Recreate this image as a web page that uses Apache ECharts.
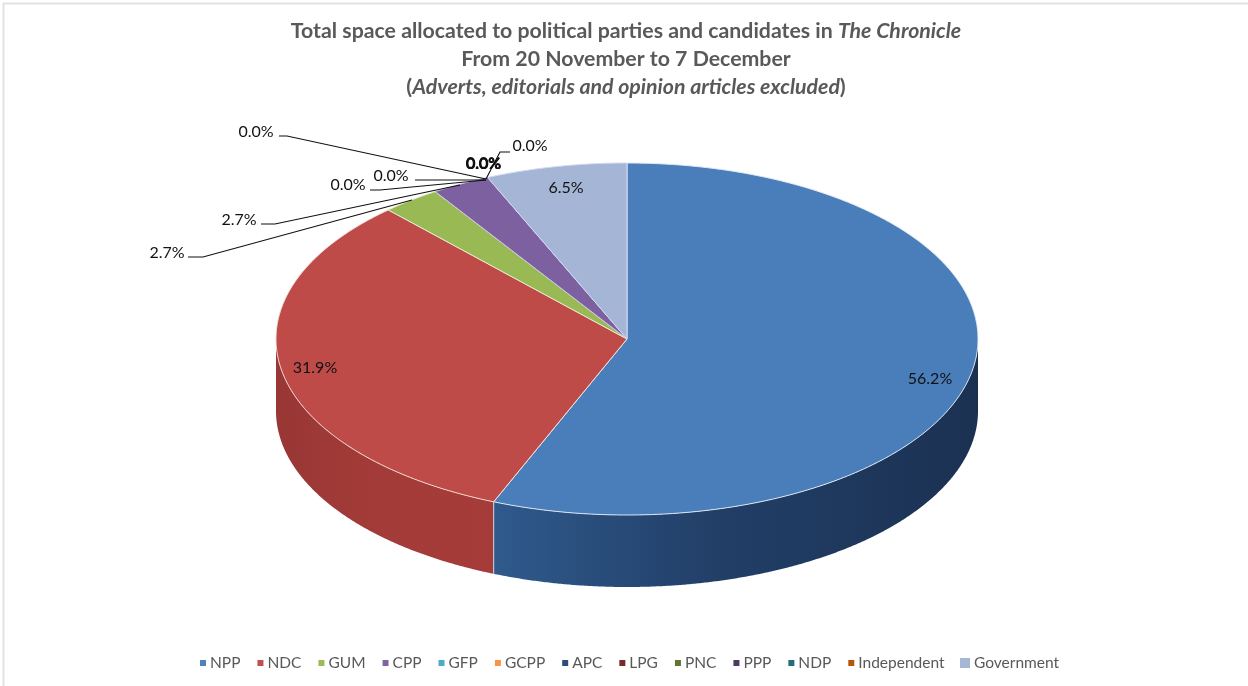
<!DOCTYPE html>
<html>
<head>
<meta charset="utf-8">
<style>html,body{margin:0;padding:0;background:#fff}#c{width:1248px;height:686px}</style>
<script src="https://cdn.jsdelivr.net/npm/echarts@6/dist/echarts.min.js"></script>
</head>
<body>
<div id="c"></div>
<script>
const categories = ['NPP','NDC','GUM','CPP','GFP','GCPP','APC','LPG','PNC','PPP','NDP','Independent','Government'];
const shares = [56.2,31.9,2.7,2.7,0,0,0,0,0,0,0,0,6.5];
const colors = ['#4F81BD','#C0504D','#9BBB59','#8064A2','#4BACC6','#F79646','#2C4D75','#772C2A','#5F7530','#4D3B62','#276A7C','#B65708','#A5B6D6'];
const topFills = ['#4A7EBB','#BE4B48','#98B954','#7D60A0','#4BACC6','#F79646','#2C4D75','#772C2A','#5F7530','#4D3B62','#276A7C','#B65708','#A4B5D6'];
const edgeTints = ['#E4ECF7','#F3E3DC','#E3EAD0','#CFC6E4','#fff','#fff','#fff','#fff','#fff','#fff','#fff','#fff','#D3D9F0'];

// Layout of the tilted disc and of each data label (separate from the data)
const disc = {cx:627, cy:339, rx:351, ry:176, depth:72};
const wallStops = {
  NPP:['#2F5A8C','#223F68','#1B3152'],
  NDC:['#983735','#A33B38','#A53C39']
};
const labelLayout = [
  {x:930,y:379},
  {x:315,y:368},
  {x:167,y:253,line:[[188,257],[203,257],[412,200]]},
  {x:239,y:220,line:[[261,224],[275,224],[460,185]]},
  {x:256,y:132,line:[[279,136],[287,136],[486,179]]},
  {x:483,y:163.5},
  {x:483.5,y:163},
  {x:484,y:163.5},
  {x:530,y:146,line:[[510,152],[500,152],[486,179]]},
  {x:391,y:176,line:[[415,180],[486,180]]},
  {x:348,y:185,line:[[370,190],[380,190],[486,180]]},
  {x:483.5,y:164},
  {x:566,y:188}
];
const total = shares.reduce((a,b)=>a+b,0);
const startFrac = shares.map((v,i)=>shares.slice(0,i).reduce((a,b)=>a+b,0)/total);

function rim(theta, dy){
  return [disc.cx + disc.rx*Math.sin(theta), disc.cy - disc.ry*Math.cos(theta) + (dy||0)];
}
function renderSlice(params, api){
  const i = params.seriesIndex;
  const v = api.value(0);
  const kids = [];
  const a0 = startFrac[i]*2*Math.PI, a1 = a0 + v/total*2*Math.PI;
  if (v > 0){
    const n = Math.max(2, Math.ceil((a1-a0)/0.005));
    const arc = [];
    for (let k=0;k<=n;k++) arc.push(a0+(a1-a0)*k/n);
    // side wall: only the front half of the rim (pi/2 .. 3pi/2) is visible
    const w0 = Math.max(a0, Math.PI/2), w1 = Math.min(a1, Math.PI*1.5);
    if (w1 > w0){
      const m = Math.ceil((w1-w0)/0.005), up = [], down = [];
      for (let k=0;k<=m;k++){
        const t = w0+(w1-w0)*k/m;
        up.push(rim(t,0)); down.push(rim(t,disc.depth));
      }
      const st = wallStops[categories[i]];
      const grad = new echarts.graphic.LinearGradient(0,0,1,0,
        [{offset:0,color:st[0]},{offset:0.45,color:st[1]},{offset:1,color:st[2]}]);
      kids.push({type:'polygon', z2:1, shape:{points:up.concat(down.reverse())},
        style:{fill:grad, stroke:'none'}});
      // the light seam where two wall sections meet
      if (a1 < Math.PI*1.5){
        const p = rim(a1,0), q = rim(a1,disc.depth);
        kids.push({type:'line', z2:2, shape:{x1:p[0],y1:p[1],x2:q[0],y2:q[1]},
          style:{stroke:'#C9D3E2',lineWidth:1}});
      }
    }
    const pts = [[disc.cx,disc.cy]].concat(arc.map(t=>rim(t,0)));
    kids.push({type:'polygon', z2:3, shape:{points:pts},
      style:{fill:topFills[i], stroke:edgeTints[i], lineWidth:1, lineJoin:'round'}});
  }
  const L = labelLayout[i];
  if (L.line){
    kids.push({type:'polyline', z2:6, shape:{points:L.line},
      style:{fill:'none',stroke:'#111',lineWidth:1.1}});
  }
  kids.push({type:'text', z2:7, style:{
    x:L.x, y:L.y, text:(v/total*100).toFixed(1)+'%', align:'center', verticalAlign:'middle',
    font:'16px Lato, sans-serif', fill:'#111'}});
  return {type:'group', children:kids};
}

const series = categories.map((name,i)=>({
  name, type:'custom', coordinateSystem:'none', renderItem:renderSlice,
  data:[[shares[i]]], itemStyle:{color:colors[i]}, silent:true, animation:false
}));

const chart = echarts.init(document.getElementById('c'), null, {renderer:'canvas'});
chart.setOption({
  animation:false,
  backgroundColor:'#fff',
  title:{
    left:621, top:12, textAlign:'center',
    text:'{b|Total space allocated to political parties and candidates in }{i|The Chronicle}\n{b|From 20 November to 7 December}\n{b|(}{i|Adverts, editorials and opinion articles excluded}{b|)}',
    textStyle:{
      rich:{
        b:{fontFamily:'Lato',fontWeight:'bold',fontSize:21.3,color:'#595959',lineHeight:28},
        i:{fontFamily:'Lato',fontWeight:'bold',fontStyle:'italic',fontSize:21.3,color:'#595959',lineHeight:28}
      }
    }
  },
  legend:[
    {data:categories.slice(0,12), left:195, top:650, orient:'horizontal', icon:'rect', itemWidth:6, itemHeight:6, itemGap:17,
     textStyle:{fontFamily:'Lato',fontSize:15.5,color:'#595959',padding:[0,0,0,-1]}, selectedMode:false},
    {data:categories.slice(12), left:955, top:650, icon:'rect', itemWidth:10, itemHeight:10,
     textStyle:{fontFamily:'Lato',fontSize:15.5,color:'#595959',padding:[0,0,0,-1]}, selectedMode:false}
  ],
  graphic:[
    {type:'line',shape:{x1:3,y1:3.5,x2:1248,y2:3.5},style:{stroke:'#E2E2E2',lineWidth:2}},
    {type:'line',shape:{x1:3.5,y1:3,x2:3.5,y2:686},style:{stroke:'#E2E2E2',lineWidth:2}}
  ],
  series
});
</script>
</body>
</html>
